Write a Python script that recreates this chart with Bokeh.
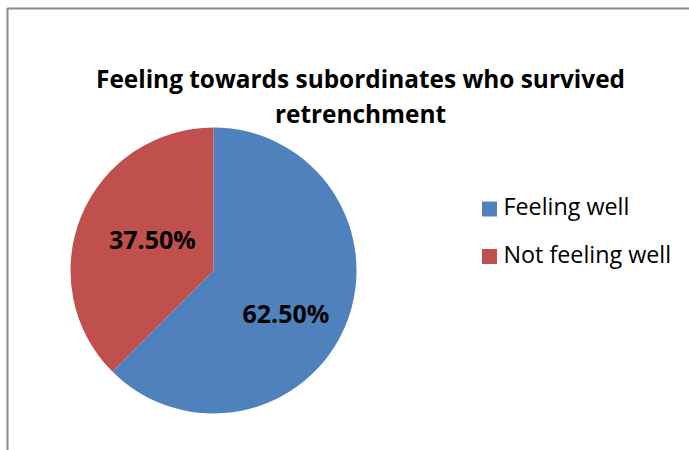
import numpy as np
from bokeh.plotting import figure
from bokeh.models import Range1d, ColumnDataSource
from bokeh.core.properties import value
from bokeh.embed import file_html
from bokeh.resources import INLINE

# ---- data ----
categories = ["Feeling well", "Not feeling well"]
values = [62.5, 37.5]
label_texts = ["62.50%", "37.50%"]
colors = ["#4F81BD", "#C0504D"]
title_lines = ["Feeling towards subordinates who survived", "retrenchment"]

W, H = 689, 450
FONT = "Open Sans"

p = figure(width=W, height=H, output_backend="svg", toolbar_location=None,
           x_range=Range1d(0, W), y_range=Range1d(0, H), min_border=0)
p.axis.visible = False
p.grid.visible = False
p.outline_line_color = None
p.background_fill_color = "white"
p.border_fill_color = "white"

def Y(py):
    return H - np.asarray(py, dtype=float)

# chart area border (left and top edges visible)
p.line(x=[7, 7, W], y=[0, Y(8), Y(8)], line_color="#8a8a8a", line_width=2)

# ---- pie ----
cx, cy, R = 213, Y(270), 143
vals = np.array(values, dtype=float)
frac = vals / vals.sum()
cum = np.concatenate([[0], np.cumsum(frac)])
start = np.pi / 2 - 2 * np.pi * cum[:-1]
end = np.pi / 2 - 2 * np.pi * cum[1:]
src = ColumnDataSource(dict(start=start, end=end, color=colors, cat=categories))
p.wedge(x=cx, y=cy, radius=R, start_angle="start", end_angle="end",
        direction="clock", fill_color="color", line_color=None, source=src)

# data labels
label_r = np.array([0.60, 0.47]) * R
label_shift = np.deg2rad([-10.0, -2.0])
mid = (start + end) / 2 + label_shift
lx = cx + label_r * np.cos(mid)
ly = cy + label_r * np.sin(mid) + 4
p.text(x=lx, y=ly, text=label_texts, text_font=value(FONT), text_font_style="bold",
       text_font_size="25px", text_align="center", text_baseline="middle",
       text_color="black")

# ---- title ----
p.text(x=[360, 360], y=Y([77.5, 112.5]), text=title_lines, text_font=value(FONT),
       text_font_style="bold", text_font_size="24.4px", text_align="center",
       text_baseline="middle", text_color="black")

# ---- legend ----
ly0 = np.array([208.5, 256.0])
p.scatter(x=[489, 489], y=Y(ly0), marker="square", size=15,
          fill_color=colors, line_color=None)
p.text(x=[503, 503], y=Y(ly0 - 3), text=categories, text_font=value(FONT),
       text_font_size="23.3px", text_align="left", text_baseline="middle",
       text_color="black")

open("out.html", "w").write(file_html(p, INLINE))
